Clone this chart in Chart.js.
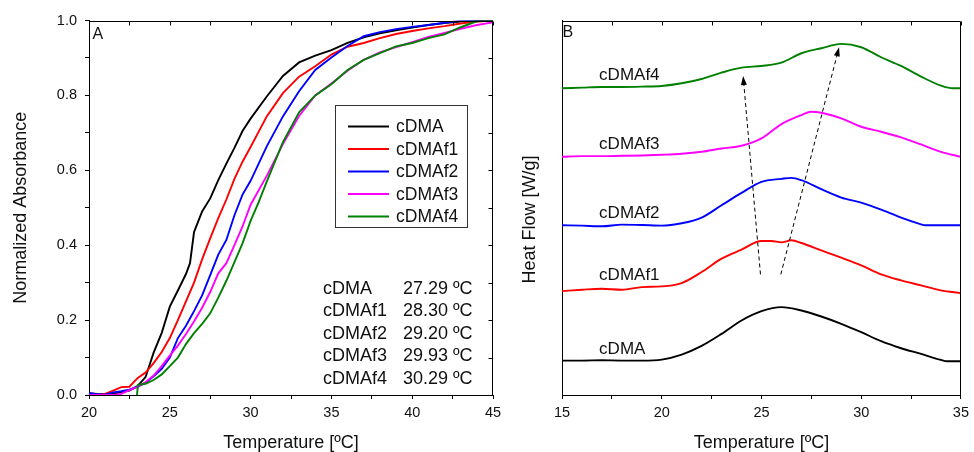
<!DOCTYPE html>
<html>
<head>
<meta charset="utf-8">
<script src="https://cdn.jsdelivr.net/npm/chart.js@4.4.0/dist/chart.umd.min.js"></script>
<style>
  html, body { margin: 0; padding: 0; background: #fff; }
  #quadro { position: relative; width: 974px; height: 452px; overflow: hidden; background: #fff; }
  canvas { position: absolute; top: 0; }
  #graficoA { left: 0; width: 520px; height: 452px; }
  #graficoB { left: 500px; width: 474px; height: 452px; }
</style>
</head>
<body>
<div id="quadro">
  <canvas id="graficoA" width="520" height="452"></canvas>
  <canvas id="graficoB" width="474" height="452"></canvas>
</div>
<script>
/* curvas de fusao (A) e DSC (B) */

var nomes = ["cDMA", "cDMAf1", "cDMAf2", "cDMAf3", "cDMAf4"];
var cores = ["#000000", "#ff0000", "#0000ff", "#ff00ff", "#008000"];
var valoresTm = [27.29, 28.30, 29.20, 29.93, 30.29];

// painel A - absorbancia normalizada
var tempA = [20, 20.5, 21, 21.5, 22, 22.5, 23, 23.5, 24, 24.5, 25, 25.5, 26, 26.5, 27, 27.5, 28, 28.5, 29, 29.5, 30,
             31, 32, 33, 34, 35, 36, 37, 38, 39, 40, 41, 42, 43, 44, 45];
var tempA0 = [20, 20.5, 21, 21.5, 22, 22.5, 23, 23.5, 24, 24.5, 25, 25.5, 26, 26.25, 26.5, 27, 27.5, 28, 28.5, 29, 29.5, 30,
              31, 32, 33, 34, 35, 36, 37, 38, 39, 40, 41, 42, 43, 44, 45];
var tempA4 = [22.97, 23.03, 23.5, 24, 24.5, 25, 25.5, 26, 26.5, 27, 27.5, 28, 28.5, 29, 29.5, 30, 30.5,
              31, 32, 33, 34, 35, 36, 37, 38, 39, 40, 41, 42, 43, 44, 45];

var absA0 = [0.005, 0.003, 0.002, 0.004, 0.008, 0.012, 0.024, 0.048, 0.113, 0.166, 0.236, 0.279, 0.323, 0.352, 0.435, 0.49, 0.525, 0.574, 0.618, 0.66, 0.705, 0.738,
             0.797, 0.852, 0.888, 0.906, 0.921, 0.94, 0.955, 0.966, 0.974, 0.981, 0.988, 0.993, 0.997, 0.999, 1.0];
var absA1 = [0.002, 0.0, 0.003, 0.012, 0.021, 0.022, 0.045, 0.06, 0.085, 0.115, 0.152, 0.2, 0.25, 0.3, 0.362, 0.418, 0.472, 0.522, 0.577, 0.623, 0.662,
             0.744, 0.806, 0.85, 0.878, 0.909, 0.93, 0.94, 0.953, 0.964, 0.972, 0.979, 0.985, 0.992, 0.997, 1.0];
var absA2 = [0.005, 0.002, 0.001, 0.007, 0.01, 0.014, 0.022, 0.033, 0.05, 0.07, 0.1, 0.152, 0.185, 0.224, 0.266, 0.32, 0.375, 0.414, 0.48, 0.535, 0.572,
             0.664, 0.744, 0.811, 0.868, 0.901, 0.932, 0.958, 0.969, 0.977, 0.983, 0.988, 0.994, 0.999, 1.0, 1.0];
var absA3 = [0, 0, 0, 0, 0.003, 0.013, 0.022, 0.034, 0.052, 0.077, 0.105, 0.132, 0.163, 0.196, 0.233, 0.275, 0.325, 0.352, 0.4, 0.45, 0.508,
             0.585, 0.67, 0.745, 0.8, 0.832, 0.866, 0.895, 0.915, 0.929, 0.942, 0.956, 0.967, 0.978, 0.988, 0.995];
var absA4 = [0, 0.027, 0.03, 0.04, 0.055, 0.077, 0.1, 0.136, 0.165, 0.19, 0.218, 0.26, 0.305, 0.355, 0.405, 0.465, 0.515,
             0.57, 0.675, 0.755, 0.8, 0.83, 0.868, 0.895, 0.913, 0.931, 0.94, 0.953, 0.963, 0.982, 0.998, 1.0];

// painel B - fluxo de calor (curvas deslocadas)
var tempB0 = [15, 16, 17, 18, 19, 20, 21, 22, 23, 24, 25, 26, 27, 28, 29, 30, 31, 32, 33, 34, 34.3, 35];
var tempB1 = [15, 16, 17, 18, 19, 20, 21, 22, 23, 24, 25, 25.5, 26, 26.5, 27, 28, 29, 30, 31, 32, 33, 34, 35];
var tempB2 = [15, 16, 17, 18, 19, 20, 21, 22, 23, 24, 25, 26, 26.5, 27, 28, 29, 30, 31, 32, 33, 33.2, 34, 35];
var tempB3 = [15, 16, 17, 18, 19, 20, 21, 22, 23, 24, 25, 26, 27, 27.5, 28, 29, 30, 31, 32, 33, 34, 35];
var tempB4 = [15, 16, 17, 18, 19, 20, 21, 22, 23, 24, 25, 26, 27, 28, 29, 30, 31, 32, 33, 34, 34.6, 35];

var fluxoB0 = [1.03, 1.03, 1.04, 1.03, 1.03, 1.06, 1.21, 1.47, 1.83, 2.23, 2.51, 2.63, 2.53, 2.35, 2.13, 1.88, 1.61, 1.40, 1.23, 1.05, 1.01, 1.01];
var fluxoB1 = [3.11, 3.15, 3.18, 3.15, 3.23, 3.25, 3.35, 3.68, 4.08, 4.35, 4.61, 4.61, 4.57, 4.63, 4.55, 4.33, 4.11, 3.88, 3.61, 3.43, 3.28, 3.13, 3.05];
var fluxoB2 = [5.08, 5.07, 5.05, 5.10, 5.09, 5.07, 5.14, 5.31, 5.68, 6.05, 6.38, 6.47, 6.50, 6.43, 6.16, 5.91, 5.76, 5.55, 5.31, 5.11, 5.08, 5.08, 5.08];
var fluxoB3 = [7.13, 7.15, 7.15, 7.16, 7.17, 7.19, 7.22, 7.28, 7.38, 7.46, 7.68, 8.11, 8.38, 8.48, 8.45, 8.28, 8.03, 7.88, 7.71, 7.50, 7.28, 7.13];
var fluxoB4 = [9.18, 9.20, 9.22, 9.22, 9.23, 9.25, 9.33, 9.46, 9.65, 9.80, 9.85, 9.95, 10.23, 10.38, 10.51, 10.41, 10.11, 9.85, 9.53, 9.26, 9.18, 9.18];

// setas tracejadas do painel B: [temp inicio, fluxo inicio, temp ponta, fluxo ponta]
var setasB = [[24.95, 3.61, 24.08, 9.55], [25.97, 3.61, 28.89, 10.41]];

var fonte = "'Liberation Sans', Arial, sans-serif";
var corTexto = "#111";

function juntar(xs, ys) {
  var pts = [];
  for (var i = 0; i < xs.length; i++) {
    pts.push({ x: xs[i], y: ys[i] });
  }
  return pts;
}

function montarSeries(listaX, listaY, suave) {
  var series = [];
  for (var i = 0; i < nomes.length; i++) {
    series.push({
      label: nomes[i],
      data: juntar(listaX[i], listaY[i]),
      borderColor: cores[i],
      borderWidth: 1.9,
      pointRadius: 0,
      fill: false,
      tension: 0,
      cubicInterpolationMode: suave ? "monotone" : "default",
      order: nomes.length - i
    });
  }
  return series;
}

// moldura: linha superior e direita com marcas para dentro
function desenharMoldura(chart, marcasDireita) {
  var ctx = chart.ctx;
  var area = chart.chartArea;
  var sx = chart.scales.x;
  var sy = chart.scales.y;
  var topo = Math.round(area.top) + 0.5;
  var dir = Math.round(area.right) - 0.5;
  ctx.save();
  ctx.strokeStyle = "#000";
  ctx.lineWidth = 1;
  ctx.beginPath();
  ctx.moveTo(area.left, topo);
  ctx.lineTo(dir, topo);
  ctx.lineTo(dir, area.bottom);
  for (var i = 0; i < sx.ticks.length; i++) {
    var px = Math.round(sx.getPixelForValue(sx.ticks[i].value)) + 0.5;
    ctx.moveTo(px, topo);
    ctx.lineTo(px, topo + 4);
  }
  if (marcasDireita) {
    for (var j = 0; j < sy.ticks.length; j++) {
      var py = Math.round(sy.getPixelForValue(sy.ticks[j].value)) + 0.5;
      ctx.moveTo(dir, py);
      ctx.lineTo(dir - 4, py);
    }
  }
  ctx.stroke();
  ctx.restore();
}

var extrasA = {
  id: "extrasA",
  afterDraw: function(chart) {
    desenharMoldura(chart, true);
    var ctx = chart.ctx;
    ctx.save();
    ctx.fillStyle = corTexto;
    ctx.font = "16px " + fonte;
    ctx.textBaseline = "alphabetic";
    ctx.fillText("A", 92.5, 38.5);

    // legenda
    ctx.strokeStyle = "#333";
    ctx.lineWidth = 1;
    ctx.strokeRect(335.5, 105.5, 132, 122);
    ctx.font = "17.5px " + fonte;
    ctx.textBaseline = "middle";
    for (var i = 0; i < chart.data.datasets.length; i++) {
      var ds = chart.data.datasets[i];
      var y = 126.5 + i * 22.5;
      ctx.strokeStyle = ds.borderColor;
      ctx.lineWidth = 1.9;
      ctx.beginPath();
      ctx.moveTo(348, y);
      ctx.lineTo(389, y);
      ctx.stroke();
      ctx.fillText(ds.label, 396, y + 1);
    }

    // temperaturas de fusao
    ctx.font = "18px " + fonte;
    for (var k = 0; k < nomes.length; k++) {
      var yy = 289 + k * 22.4;
      ctx.fillText(nomes[k], 323, yy);
      ctx.fillText(valoresTm[k].toFixed(2) + " \u00baC", 403, yy);
    }
    ctx.restore();
  }
};

function desenharSeta(ctx, x1, y1, x2, y2) {
  var ang = Math.atan2(y2 - y1, x2 - x1);
  var comp = 9, meia = 3;
  var bx = x2 - comp * Math.cos(ang);
  var by = y2 - comp * Math.sin(ang);
  ctx.setLineDash([4, 3]);
  ctx.beginPath();
  ctx.moveTo(x1, y1);
  ctx.lineTo(bx, by);
  ctx.stroke();
  ctx.setLineDash([]);
  ctx.beginPath();
  ctx.moveTo(x2, y2);
  ctx.lineTo(bx + meia * Math.sin(ang), by - meia * Math.cos(ang));
  ctx.lineTo(bx - meia * Math.sin(ang), by + meia * Math.cos(ang));
  ctx.closePath();
  ctx.fill();
}

var extrasB = {
  id: "extrasB",
  afterDraw: function(chart) {
    desenharMoldura(chart, false);
    var ctx = chart.ctx;
    var sx = chart.scales.x;
    var sy = chart.scales.y;
    ctx.save();
    ctx.fillStyle = corTexto;
    ctx.font = "16px " + fonte;
    ctx.textBaseline = "alphabetic";
    ctx.fillText("B", 62.5, 36.7);

    // titulo do eixo y (um pouco abaixo do centro, como no original)
    ctx.save();
    ctx.translate(30, 219.5);
    ctx.rotate(-Math.PI / 2);
    ctx.font = "18px " + fonte;
    ctx.textAlign = "center";
    ctx.textBaseline = "middle";
    ctx.fillText("Heat Flow [W/g]", 0, 0);
    ctx.restore();

    // rotulos das curvas (posicao em graus / nivel do eixo)
    var nivelRotulo = [1.38, 3.58, 5.45, 7.51, 9.58];
    ctx.font = "17px " + fonte;
    ctx.textBaseline = "middle";
    for (var i = 0; i < nomes.length; i++) {
      ctx.fillText(nomes[i], sx.getPixelForValue(16.86), sy.getPixelForValue(nivelRotulo[i]));
    }

    ctx.strokeStyle = "#000";
    ctx.fillStyle = "#000";
    ctx.lineWidth = 1;
    for (var s = 0; s < setasB.length; s++) {
      var a = setasB[s];
      desenharSeta(ctx, sx.getPixelForValue(a[0]), sy.getPixelForValue(a[1]),
                   sx.getPixelForValue(a[2]), sy.getPixelForValue(a[3]));
    }
    ctx.restore();
  }
};

function eixoX(min, max) {
  return {
    type: "linear",
    min: min,
    max: max,
    afterFit: function(s) { s.height = 57; },
    ticks: {
      stepSize: 2.5,
      autoSkip: false,
      maxRotation: 0,
      padding: 5,
      color: corTexto,
      font: { family: fonte, size: 14.5 },
      callback: function(v) { return v % 5 === 0 ? String(v) : ""; }
    },
    grid: { drawOnChartArea: false, drawTicks: true, tickLength: 4, color: "#000" },
    border: { display: true, color: "#000", width: 1 },
    title: {
      display: true,
      text: "Temperature [\u00baC]",
      color: corTexto,
      font: { family: fonte, size: 18, lineHeight: 1 },
      padding: { top: 0, bottom: 0 }
    }
  };
}

var contextoA = document.getElementById("graficoA").getContext("2d");
var chartA = new Chart(contextoA, {
  type: "line",
  data: {
    datasets: montarSeries([tempA0, tempA, tempA, tempA, tempA4], [absA0, absA1, absA2, absA3, absA4], false)
  },
  options: {
    responsive: false,
    animation: false,
    events: [],
    layout: { padding: { left: 0, right: 27, top: 20.5, bottom: 0 } },
    plugins: { legend: { display: false }, tooltip: { enabled: false } },
    scales: {
      x: eixoX(20, 45),
      y: {
        type: "linear",
        min: 0,
        max: 1,
        afterFit: function(s) { s.width = 89; },
        ticks: {
          stepSize: 0.1,
          autoSkip: false,
          padding: 8,
          color: corTexto,
          font: { family: fonte, size: 14.5 },
          callback: function(v) {
            var d = Math.round(v * 10);
            return d % 2 === 0 ? (d / 10).toFixed(1) : "";
          }
        },
        grid: { drawOnChartArea: false, drawTicks: true, tickLength: 4, color: "#000" },
        border: { display: true, color: "#000", width: 1 },
        title: {
          display: true,
          text: "Normalized Absorbance",
          color: corTexto,
          font: { family: fonte, size: 18, lineHeight: 1 },
          padding: { top: 12, bottom: 0 }
        }
      }
    }
  },
  plugins: [extrasA]
});

var contextoB = document.getElementById("graficoB").getContext("2d");
var chartB = new Chart(contextoB, {
  type: "line",
  data: {
    datasets: montarSeries([tempB0, tempB1, tempB2, tempB3, tempB4], [fluxoB0, fluxoB1, fluxoB2, fluxoB3, fluxoB4], true)
  },
  options: {
    responsive: false,
    animation: false,
    events: [],
    layout: { padding: { left: 0, right: 8, top: 20.5, bottom: 0 } },
    plugins: { legend: { display: false }, tooltip: { enabled: false } },
    scales: {
      x: eixoX(15, 35),
      y: {
        type: "linear",
        min: 0,
        max: 11.21,
        afterFit: function(s) { s.width = 62; },
        ticks: { display: false },
        grid: { display: false },
        border: { display: true, color: "#000", width: 1 },
        title: { display: false }
      }
    }
  },
  plugins: [extrasB]
});
</script>
</body>
</html>
